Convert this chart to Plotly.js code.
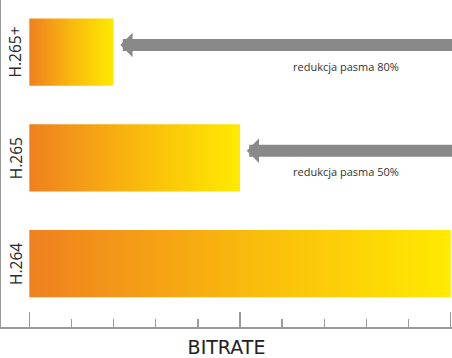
<!DOCTYPE html>
<html>
<head>
<meta charset="utf-8">
<script src="https://cdn.plot.ly/plotly-3.0.1.min.js"></script>
<style>html,body{margin:0;padding:0;background:#fff;}#chart{width:452px;height:358px;}</style>
</head>
<body>
<div id="chart"></div>
<script>
// Data
const categories = ["H.264", "H.265", "H.265+"];
const bitrate = [10, 5, 2];
const axisTitle = "BITRATE";
const reductionLabel = "redukcja pasma";

const half = 0.318;
const gradient = [[0, "#EF8020"], [0.5, "#F9B80D"], [1, "#FFEA00"]];

const traces = categories.map((c, i) => {
  const v = bitrate[i];
  return {
    type: "scatter",
    mode: "lines",
    x: [0, v, v, 0, 0],
    y: [i - half, i - half, i + half, i + half, i - half],
    fill: "toself",
    fillgradient: {type: "horizontal", colorscale: gradient},
    line: {width: 0, color: "rgba(0,0,0,0)"},
    hoverinfo: "skip",
    showlegend: false,
    name: c
  };
});

const annotations = [];
// category labels
categories.forEach((c, i) => {
  annotations.push({
    x: -0.33, y: i, xref: "x", yref: "y",
    text: c, showarrow: false, textangle: -90,
    font: {family: "Open Sans", size: 15.5, color: "#2a2a2a"}
  });
});
// arrows + reduction text
const base = bitrate[0];
categories.forEach((c, i) => {
  if (i === 0) return;
  const v = bitrate[i];
  const pct = Math.round((1 - v / base) * 100);
  annotations.push({
    x: v + 0.16, y: i, xref: "x", yref: "y",
    ax: 10.2, ay: i, axref: "x", ayref: "y",
    text: "", showarrow: true,
    arrowhead: 1, arrowwidth: 12, arrowsize: 0.34,
    arrowcolor: "#898989", standoff: 0,
    yshift: 7
  });
  annotations.push({
    x: 7.52, y: i, xref: "x", yref: "y",
    text: reductionLabel + " " + pct + "%", showarrow: false,
    yshift: -14,
    font: {family: "Open Sans", size: 11, color: "#333333"}
  });
});

const layout = {
  width: 452, height: 358,
  margin: {l: 1, r: 0, t: 0, b: 31, pad: 0},
  paper_bgcolor: "#ffffff",
  plot_bgcolor: "#ffffff",
  showlegend: false,
  xaxis: {
    range: [-0.672, 10.031],
    showgrid: false, zeroline: false,
    showline: true, linecolor: "#9a9a9a", linewidth: 2,
    ticks: "inside", tick0: 0, dtick: 5, ticklen: 15, tickwidth: 1.5, tickcolor: "#9a9a9a",
    minor: {tick0: 0, dtick: 1, ticks: "inside", ticklen: 8, tickwidth: 1.5, tickcolor: "#9a9a9a"},
    showticklabels: false,
    title: {text: axisTitle, standoff: 17, font: {family: "DejaVu Sans", size: 19, color: "#222222"}}
  },
  yaxis: {
    range: [-0.600, 2.492],
    showgrid: false, zeroline: false,
    showline: true, linecolor: "#9a9a9a", linewidth: 2,
    ticks: "", showticklabels: false
  },
  annotations: annotations
};

Plotly.newPlot("chart", traces, layout, {staticPlot: true, displayModeBar: false});
</script>
</body>
</html>
